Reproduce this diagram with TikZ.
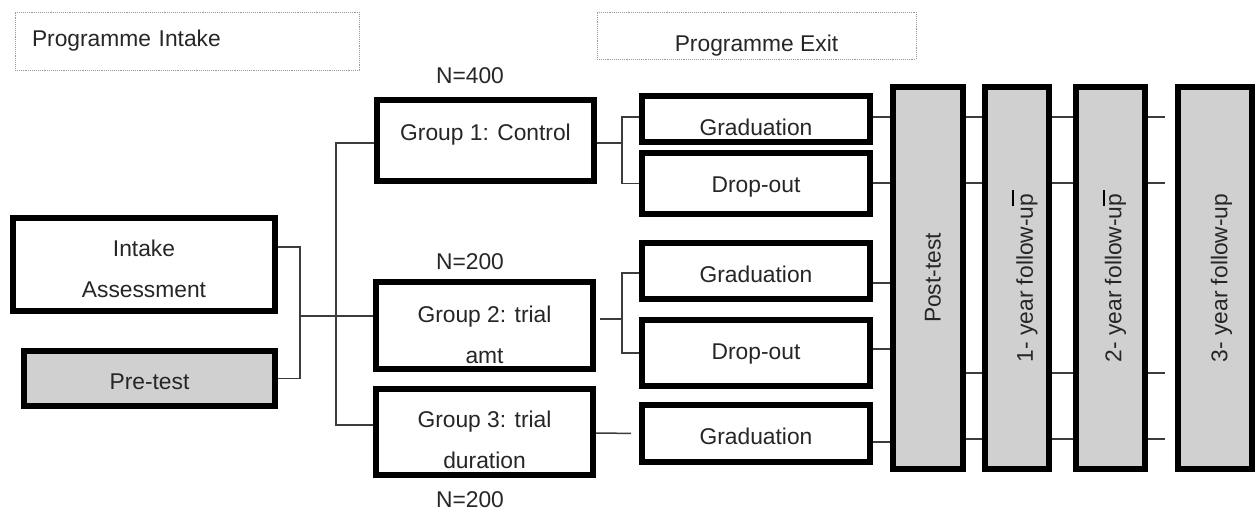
\documentclass[tikz,border=0pt]{standalone}
\usepackage{fontspec}
\setmainfont{Liberation Sans}
\definecolor{boxgray}{RGB}{208,208,208}
\definecolor{linegray}{RGB}{60,60,60}
\tikzset{
  lbl/.style={font=\fontsize{22.8pt}{41pt}\selectfont,text=black!85,align=center,inner sep=0pt},
  box/.style={draw=black,line width=6pt,fill=white,inner sep=0pt},
  graybox/.style={box,fill=boxgray},
  hdr/.style={draw=gray!80,densely dotted,line width=0.9pt,inner sep=0pt},
  conn/.style={draw=linegray,line width=1.5pt},
  txt/.style 2 args={label={[lbl,yshift=#1]center:{#2}}},
  vtxt/.style 2 args={label={[lbl,xshift=#1,rotate=90]center:{#2}}},
}
\begin{document}
\begin{tikzpicture}[x=1pt,y=-1pt]
  \useasboundingbox (0,0) rectangle (1255,512);
  % phase headers
  \node[hdr,lbl,minimum width=344pt,minimum height=58pt,text width=310pt,align=left,inner xsep=17pt] (inhdr) at (187,41) {Programme Intake};
  \node[hdr,minimum width=319pt,minimum height=47pt,txt={-10pt}{Programme Exit}] (exhdr) at (756.5,35.5) {};
  % intake
  \node[box,minimum width=262pt,minimum height=93pt,txt={-4pt}{Intake\\Assessment}] (intake) at (144,264.5) {};
  \node[graybox,minimum width=251pt,minimum height=55pt,txt={-3.5pt}{Pre-test}] (pretest) at (149.5,378.5) {};
  % groups
  \node[box,minimum width=217pt,minimum height=81pt,txt={5.5pt}{Group 1: Control}] (g1) at (485.5,140.5) {};
  \node[box,minimum width=217pt,minimum height=87pt,txt={-9pt}{Group 2: trial\\amt}] (g2) at (484.5,325.5) {};
  \node[box,minimum width=217pt,minimum height=86pt,txt={-8pt}{Group 3: trial\\duration}] (g3) at (484.5,432) {};
  \node[lbl] (n1) at (470,76) {N=400};
  \node[lbl] (n2) at (470,262) {N=200};
  \node[lbl] (n3) at (470,500) {N=200};
  % exits
  \node[box,minimum width=228pt,minimum height=46pt,txt={-8.5pt}{Graduation}] (grad1) at (756,119) {};
  \node[box,minimum width=228pt,minimum height=61pt,txt={-4pt}{Drop-out}] (drop1) at (756,183.5) {};
  \node[box,minimum width=228pt,minimum height=56pt,txt={-3pt}{Graduation}] (grad2) at (756,271) {};
  \node[box,minimum width=228pt,minimum height=66pt,txt={-1pt}{Drop-out}] (drop2) at (756,353) {};
  \node[box,minimum width=228pt,minimum height=57pt,txt={-2.5pt}{Graduation}] (grad3) at (756,433.5) {};
  % measurement columns
  \node[graybox,minimum width=70pt,minimum height=382pt,vtxt={5pt}{Post-test}] (post) at (928,278) {};
  \node[graybox,minimum width=64pt,minimum height=382pt,vtxt={10pt}{1- year follow-up}] (fu1) at (1017,278) {};
  \node[graybox,minimum width=69pt,minimum height=382pt,vtxt={5pt}{2- year follow-up}] (fu2) at (1110.5,278) {};
  \node[graybox,minimum width=74pt,minimum height=382pt,vtxt={6.5pt}{3- year follow-up}] (fu3) at (1215,278) {};
  \draw[black,line width=1.5pt] (1013,190) -- (1013,206);
  \draw[black,line width=1.5pt] (1104,190) -- (1104,206);
  % connectors
  \coordinate (jin) at (300,316);
  \coordinate (jgr) at (336,316);
  \coordinate (jg1) at (622,143);
  \coordinate (jg2) at (622,319);
  \draw[conn] ([yshift=17.5pt]intake.east) -| (jin) |- (pretest.east);
  \draw[conn] (jin) -- (g2.west |- jin);
  \draw[conn] ([yshift=-2.5pt]g1.west) -| (jgr) |- ([yshift=7pt]g3.west);
  \draw[conn] ([yshift=-2.5pt]g1.east) -- (jg1);
  \draw[conn] ([yshift=2pt]grad1.west) -| (jg1) |- (drop1.west);
  \draw[conn,shorten <=4pt] ([yshift=6.5pt]g2.east) -- (jg2);
  \draw[conn] ([yshift=-2pt]grad2.west) -| (jg2) |- (drop2.west);
  \draw[conn,shorten >=8pt] ([yshift=-1pt]g3.east) -- (grad3.west);
  \foreach \yy in {117,183,283,349,373,439,442}
    \coordinate (r\yy) at (0,\yy);
  \foreach \src/\yy in {grad1/117,drop1/183,grad2/283,drop2/349,grad3/442}
    \draw[conn] (\src.east |- r\yy) -- (post.west |- r\yy);
  \foreach \yy in {117,183,373,439} {
    \draw[conn] (post.east |- r\yy) -- (fu1.west |- r\yy);
    \draw[conn] (fu1.east |- r\yy) -- (fu2.west |- r\yy);
    \draw[conn,shorten >=10pt] (fu2.east |- r\yy) -- (fu3.west |- r\yy);
  }
\end{tikzpicture}
\end{document}
